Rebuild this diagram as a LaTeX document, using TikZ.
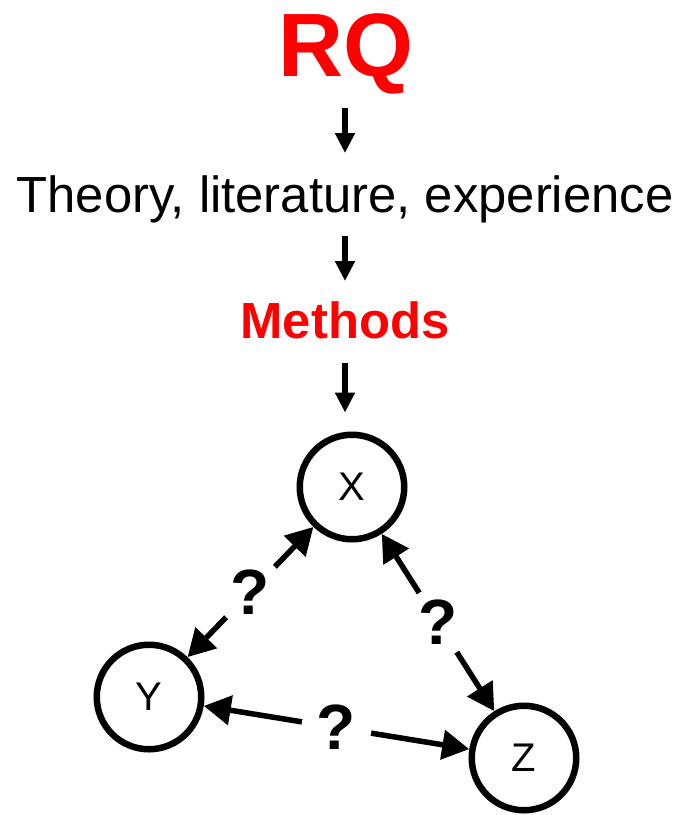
\documentclass[tikz,border=0pt]{standalone}
\usepackage{fontspec}
\setmainfont{Liberation Sans}
\usetikzlibrary{arrows.meta}
\definecolor{rqred}{RGB}{255,0,0}
\tikzset{
  rqlabel/.style={font=\bfseries\fontsize{45}{50}\selectfont, text=rqred, inner sep=0pt, anchor=base},
  steplabel/.style={font=\fontsize{25.4}{30}\selectfont, inner sep=0pt, anchor=base},
  methodlabel/.style={font=\bfseries\fontsize{25.4}{30}\selectfont, text=rqred, inner sep=0pt, anchor=base},
  downarrow/.style={line width=3pt, -{Triangle[length=10pt,width=9.5pt]}},
  varnode/.style={circle, draw, line width=3.25pt, minimum size=52.25pt, inner sep=0pt, font=\fontsize{20}{24}\selectfont},
  linkarrow/.style={line width=2.75pt, {Triangle[length=13.5pt,width=14.5pt]}-{Triangle[length=13.5pt,width=14.5pt]}},
  qmark/.style={circle, fill=white, inner sep=0pt, minimum size=35pt, font=\bfseries\fontsize{32}{36}\selectfont}
}
\begin{document}
\begin{tikzpicture}[x=0.5pt,y=-0.5pt]
\useasboundingbox (0,0) rectangle (680,815);

\node[rqlabel] (rq) at (346,76) {RQ};
\node[steplabel] (theory) at (345,212) {Theory, literature, experience};
\node[methodlabel] (methods) at (345,338) {Methods};

\node[varnode] (x) at (352,487) {X};
\node[varnode] (y) at (149,697) {Y};
\node[varnode] (z) at (524,758) {Z};

\draw[downarrow, shorten <=16pt, shorten >=29.5pt] (rq.base -| theory.base) -- (theory.base);
\draw[downarrow, shorten <=12pt, shorten >=28.5pt] (theory.base) -- (methods.base);
\draw[downarrow, shorten <=12.5pt, shorten >=9.5pt] (methods.base) -- (methods.base |- x.north);

\draw[linkarrow] (x) -- node[qmark] {?} (y);
\draw[linkarrow] (x) -- node[qmark] {?} (z);
\draw[linkarrow] (y) -- node[qmark] {?} (z);
\end{tikzpicture}
\end{document}
